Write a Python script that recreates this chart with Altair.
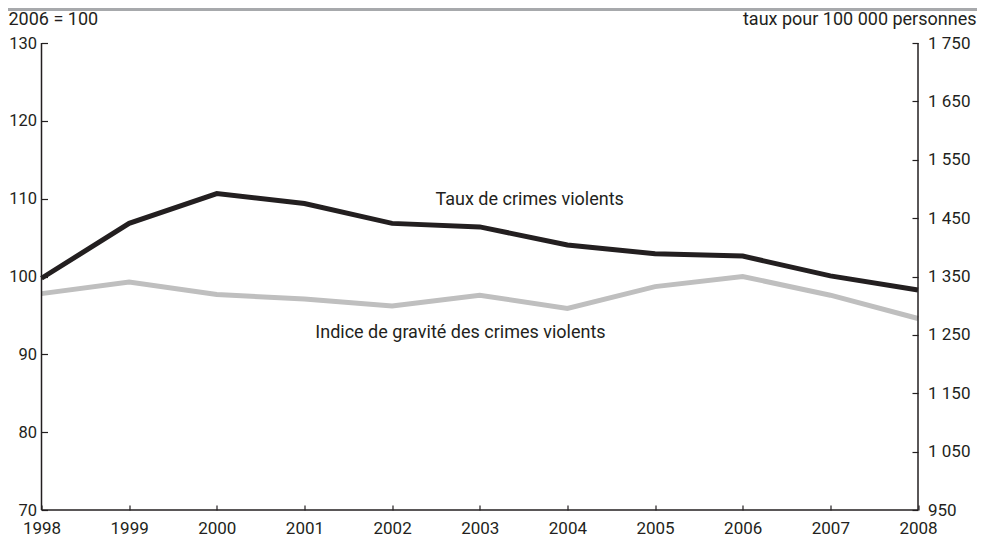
import altair as alt
import pandas as pd

# ---- data ----
years = list(range(1998, 2009))
taux = [1347, 1441, 1492, 1475, 1441, 1435, 1404, 1389, 1385, 1351, 1327]
indice = [97.8, 99.3, 97.7, 97.1, 96.2, 97.6, 95.9, 98.7, 100.0, 97.6, 94.6]
left_ticks = [70, 80, 90, 100, 110, 120, 130]
right_ticks = [950, 1050, 1150, 1250, 1350, 1450, 1550, 1650, 1750]
label_texts = ["Taux de crimes violents", "Indice de gravité des crimes violents"]
label_years = [2003.57, 2002.78]
label_values = [109.8, 92.7]

INK = "#231f20"
GREY_LINE = "#bfbfbf"
FONT = "Roboto"
FS = 17
TFS = 18

df = pd.DataFrame({"annee": years, "taux": taux, "indice": indice})
frame_df = pd.DataFrame({
    "x": [years[0], years[-1], years[0]],
    "x2": [years[0], years[-1], years[-1]],
    "y": [left_ticks[0], left_ticks[0], left_ticks[0]],
    "y2": [left_ticks[-1], left_ticks[-1], left_ticks[0]],
})
ann_df = pd.DataFrame({"label": label_texts, "x": label_years, "y": label_values})

xscale = alt.Scale(domain=[years[0], years[-1]], nice=False, zero=False)
lscale = alt.Scale(domain=[left_ticks[0], left_ticks[-1]], nice=False, zero=False)
rscale = alt.Scale(domain=[right_ticks[0], right_ticks[-1]], nice=False, zero=False)
LTITLE = "2006 = 100"

x_axis = alt.Axis(values=years, format="d", offset=-5, tickSize=5, domain=False,
                  grid=False, labelPadding=10, labelFlush=False)
left_axis = alt.Axis(values=left_ticks, orient="left", offset=-6, tickSize=6,
                     domain=False, grid=False, labelPadding=5, labelFontSize=16.5,
                     titleAngle=0, titleAlign="left", titleBaseline="middle",
                     titleX=-39.5, titleY=-24, titleFont=FONT, titleFontSize=TFS,
                     titleFontWeight="normal", titleColor=INK)
right_axis = alt.Axis(values=right_ticks, orient="right", offset=-6, tickSize=6,
                      domain=False, grid=False, labelPadding=9.5,
                      labelExpr="replace(format(datum.value, ','), ',', ' ')",
                      titleAngle=0, titleAlign="right", titleBaseline="middle",
                      titleX=64, titleY=-24, titleFont=FONT, titleFontSize=TFS,
                      titleFontWeight="normal", titleColor=INK)

grey = alt.Chart(df).mark_line(color=GREY_LINE, strokeWidth=5, strokeJoin="miter").encode(
    x=alt.X("annee:Q", scale=xscale, axis=x_axis, title=None),
    y=alt.Y("indice:Q", scale=lscale, axis=left_axis, title=LTITLE),
)

frame = alt.Chart(frame_df).mark_rule(color=INK, strokeWidth=1.5).encode(
    x=alt.X("x:Q", scale=xscale, title=None),
    x2="x2:Q",
    y=alt.Y("y:Q", scale=lscale, title=LTITLE),
    y2="y2:Q",
)

ann = alt.Chart(ann_df).mark_text(font=FONT, fontSize=TFS, color=INK,
                                   align="center", baseline="middle").encode(
    x=alt.X("x:Q", scale=xscale, title=None),
    y=alt.Y("y:Q", scale=lscale, title=LTITLE),
    text="label:N",
)

topbar = alt.Chart(df).mark_rule(color="#a7a9ac", strokeWidth=3).encode(
    x=alt.value(-33.5), x2=alt.value(935.5), y=alt.value(-33.5)
)

left_layer = alt.layer(grey, frame, ann, topbar)

black = alt.Chart(df).mark_line(color=INK, strokeWidth=5, strokeJoin="miter").encode(
    x=alt.X("annee:Q", scale=xscale, title=None),
    y=alt.Y("taux:Q", scale=rscale, axis=right_axis,
            title="taux pour 100 000 personnes"),
)

chart = alt.layer(left_layer, black).resolve_scale(y="independent").properties(
    width=876.5, height=467,
    autosize=alt.AutoSizeParams(type="none"),
    padding={"left": 33.5, "top": 35, "right": 59, "bottom": 27},
).configure_view(stroke=None).configure_axis(
    labelFont=FONT, labelFontSize=FS, labelColor=INK,
    tickColor=INK, tickWidth=1.2,
)

chart.save("out.html", embed_options={"renderer": "svg", "actions": False})
